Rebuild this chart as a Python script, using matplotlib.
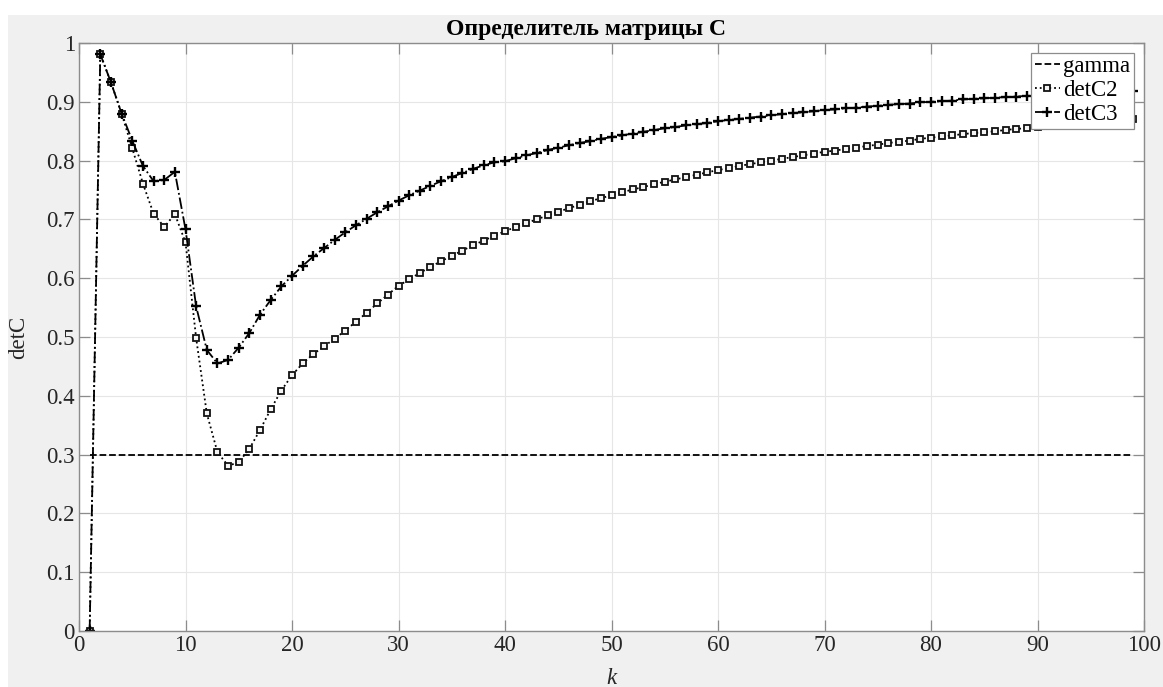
import matplotlib.pyplot as plt
from matplotlib.patches import Rectangle
from matplotlib.ticker import FixedLocator

# step number
k = list(range(1, 100))

# threshold level
gamma = [0.3] * len(k)

# determinant of C, second variant
detC2 = [0.000, 0.981, 0.933, 0.880, 0.821, 0.761, 0.710, 0.687, 0.709, 0.661,
         0.498, 0.370, 0.304, 0.281, 0.287, 0.310, 0.342, 0.377, 0.409, 0.435,
         0.455, 0.471, 0.484, 0.497, 0.511, 0.526, 0.541, 0.557, 0.572, 0.587,
         0.598, 0.609, 0.619, 0.629, 0.638, 0.647, 0.656, 0.664, 0.672, 0.680,
         0.687, 0.694, 0.700, 0.707, 0.713, 0.719, 0.725, 0.731, 0.736, 0.741,
         0.746, 0.751, 0.755, 0.760, 0.764, 0.768, 0.772, 0.776, 0.780, 0.784,
         0.787, 0.791, 0.794, 0.797, 0.800, 0.803, 0.806, 0.809, 0.812, 0.815,
         0.817, 0.820, 0.822, 0.825, 0.827, 0.830, 0.832, 0.834, 0.837, 0.839,
         0.841, 0.843, 0.845, 0.847, 0.848, 0.850, 0.852, 0.854, 0.855, 0.857,
         0.858, 0.860, 0.861, 0.863, 0.864, 0.866, 0.867, 0.868, 0.870]

# determinant of C, third variant
detC3 = [0.000, 0.981, 0.933, 0.880, 0.834, 0.791, 0.765, 0.767, 0.781, 0.683,
         0.552, 0.478, 0.455, 0.461, 0.482, 0.507, 0.538, 0.563, 0.586, 0.604,
         0.621, 0.637, 0.651, 0.665, 0.678, 0.690, 0.701, 0.712, 0.722, 0.732,
         0.741, 0.749, 0.757, 0.765, 0.772, 0.779, 0.786, 0.792, 0.797, 0.799,
         0.804, 0.809, 0.813, 0.818, 0.822, 0.826, 0.830, 0.833, 0.837, 0.840,
         0.843, 0.846, 0.849, 0.852, 0.855, 0.857, 0.860, 0.862, 0.864, 0.867,
         0.869, 0.871, 0.873, 0.875, 0.877, 0.879, 0.881, 0.882, 0.884, 0.886,
         0.887, 0.889, 0.890, 0.892, 0.893, 0.895, 0.896, 0.897, 0.899, 0.900,
         0.901, 0.902, 0.904, 0.905, 0.906, 0.907, 0.908, 0.909, 0.910, 0.911,
         0.912, 0.913, 0.914, 0.915, 0.916, 0.917, 0.918, 0.918, 0.919]

xticks = [0, 10, 20, 30, 40, 50, 60, 70, 80, 90, 100]
yticks = [0, 0.1, 0.2, 0.3, 0.4, 0.5, 0.6, 0.7, 0.8, 0.9, 1]
ytick_labels = ['0', '0.1', '0.2', '0.3', '0.4', '0.5', '0.6', '0.7', '0.8', '0.9', '1']

plt.rcParams['font.family'] = ['Liberation Serif', 'DejaVu Serif']
plt.rcParams['font.size'] = 16

W, H = 1163, 687
fig = plt.figure(figsize=(W / 100, H / 100), dpi=100, facecolor='white')
# grey window area, white strip on top and left
fig.patches.append(Rectangle((8 / W, 0), 1 - 8 / W, 1 - 15 / H,
                             transform=fig.transFigure, facecolor='#f0f0f0',
                             edgecolor='none', zorder=-10))

ax = fig.add_axes([79 / W, 1 - 631 / H, (1144 - 79) / W, (631 - 43) / H])
ax.set_facecolor('white')

ax.plot(k, gamma, linestyle='--', color='black', linewidth=1.3, label='gamma')
ax.plot(k, detC2, linestyle=':', color='black', linewidth=1.3, marker='s',
        markersize=4, markerfacecolor='#f4f4f4', markeredgecolor='#111111',
        markeredgewidth=1.3, label='detC2')
ax.plot(k, detC3, linestyle='-.', color='black', linewidth=1.3, marker='+',
        markersize=7, markeredgewidth=1.7, label='detC3')

ax.set_xlim(0, 100)
ax.set_ylim(0, 1)
ax.xaxis.set_major_locator(FixedLocator(xticks))
ax.set_yticks(yticks)
ax.set_yticklabels(ytick_labels)

ax.grid(True, color='#e6e6e6', linewidth=0.8)
ax.set_axisbelow(True)
for s in ax.spines.values():
    s.set_color('#8c8c8c')
    s.set_linewidth(1.0)
ax.tick_params(direction='in', length=8, width=0.9, color='#8c8c8c',
               top=True, right=True, labelcolor='#262626', labelsize=16.5, pad=3)

ax.set_xlabel('k', fontstyle='italic', fontsize=16.5, color='#262626')
ax.xaxis.set_label_coords(0.5, -(668 - 631) / 588)
ax.set_ylabel('detC', fontsize=16.5, color='#262626')
ax.yaxis.set_label_coords(-(79 - 29) / 1065, 0.5)

fig.text(586 / W, 1 - 30 / H, 'Определитель матрицы С', ha='center', va='center',
         fontsize=17, fontweight='bold', color='black')

leg = ax.legend(loc='upper right', bbox_to_anchor=((1134 - 79) / 1065, (631 - 53) / 588),
                borderaxespad=0, fancybox=False, framealpha=1, edgecolor='#8c8c8c',
                fontsize=16.5, handlelength=1.1, handletextpad=0.15, labelspacing=0.12,
                borderpad=0.15, numpoints=1)
leg.get_frame().set_linewidth(0.9)

fig.savefig('out.png', dpi=100, facecolor=fig.get_facecolor())
